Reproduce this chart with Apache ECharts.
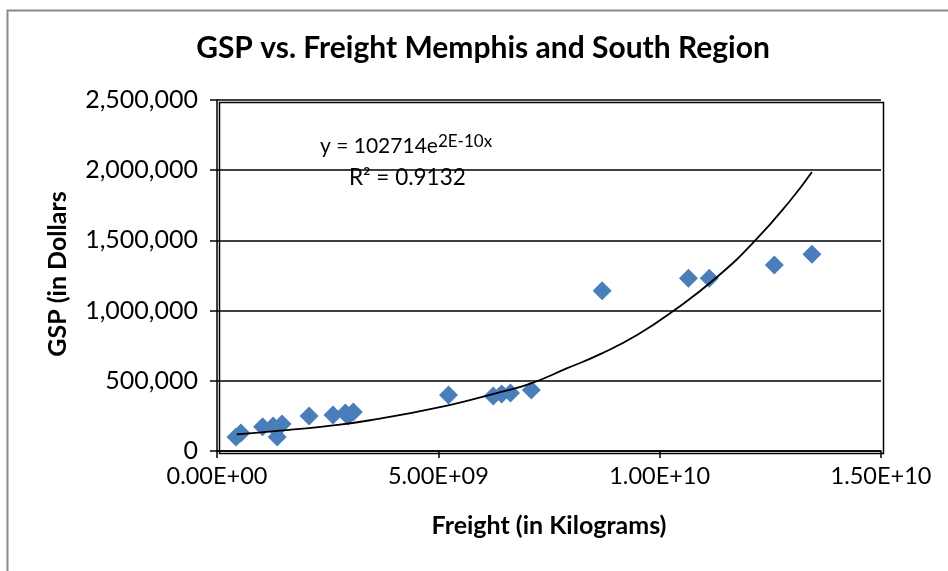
<!DOCTYPE html>
<html>
<head>
<meta charset="utf-8">
<script src="https://cdn.jsdelivr.net/npm/echarts@6/dist/echarts.min.js"></script>
<style>html,body{margin:0;padding:0;background:#fff;}#c{width:948px;height:571px;}</style>
</head>
<body>
<div id="c"></div>
<script>
// Freight (kg) vs GSP (dollars)
var freight = [0.43e9, 0.54e9, 1.03e9, 1.27e9, 1.47e9, 1.36e9, 2.08e9, 2.62e9, 2.90e9, 3.08e9, 2.96e9, 5.23e9, 6.24e9, 6.43e9, 6.63e9, 7.10e9, 8.70e9, 10.65e9, 11.12e9, 12.59e9, 13.44e9];
var gsp = [99700, 128000, 173000, 178000, 192000, 99700, 249000, 256000, 270000, 278000, 250000, 399000, 392000, 406000, 413000, 434000, 1142000, 1230000, 1230000, 1325000, 1401000];
// exponential trendline
var trendX = [0.446e9, 1.425e9, 2.44e9, 3.46e9, 5.20e9, 6.40e9, 7.08e9, 7.90e9, 8.67e9, 9.50e9, 10.32e9, 11.31e9, 12.17e9, 12.96e9, 13.44e9];
var trendY = [119000, 144600, 176000, 219000, 324000, 420000, 480000, 588000, 692000, 828000, 1000000, 1243000, 1503000, 1788000, 1987000];
var xTicks = ['0.00E+00', '5.00E+09', '1.00E+10', '1.50E+10'];
var yTicks = ['0', '500,000', '1,000,000', '1,500,000', '2,000,000', '2,500,000'];

var pts = freight.map(function (v, i) { return [v, gsp[i]]; });
var trend = trendX.map(function (v, i) { return [v, trendY[i]]; });
var FONT = 'Lato';
var chart = echarts.init(document.getElementById('c'));
chart.setOption({
  animation: false,
  backgroundColor: '#fff',
  title: {
    text: 'GSP vs. Freight Memphis and South Region',
    left: 478, top: 28, textAlign: 'center',
    textStyle: { fontFamily: FONT, fontWeight: 'bold', fontSize: 30, color: '#000' }
  },
  grid: { left: 217, right: 67, top: 100, bottom: 120 },
  xAxis: {
    type: 'value', min: 0, max: 1.5e10, interval: 5e9,
    axisLine: { show: true, lineStyle: { color: '#000', width: 1.5 } },
    axisTick: { show: true, length: 7, lineStyle: { color: '#000', width: 1.5 } },
    splitLine: { show: false },
    axisLabel: { fontFamily: FONT, fontSize: 23.5, color: '#000', margin: 13,
      formatter: function (v) { return xTicks[Math.round(v / 5e9)]; } }
  },
  yAxis: {
    type: 'value', min: 0, max: 2500000, interval: 500000,
    axisLine: { show: true, lineStyle: { color: '#000', width: 1.5 } },
    axisTick: { show: true, length: 7, lineStyle: { color: '#000', width: 1.5 } },
    splitLine: { show: true, lineStyle: { color: '#000', width: 1.5 } },
    axisLabel: { fontFamily: FONT, fontSize: 25, color: '#000', margin: 19,
      formatter: function (v) { return yTicks[Math.round(v / 500000)]; } }
  },
  graphic: [
    { type: 'rect', left: 5, top: 8, shape: { width: 980, height: 620 }, style: { fill: 'none', stroke: '#8a8a8a', lineWidth: 2 }, silent: true, z: -1 },
    { type: 'rect', left: 217, top: 100, shape: { width: 664, height: 351 }, style: { fill: 'none', stroke: '#000', lineWidth: 1.5 }, silent: true, z: 10 },
    { type: 'text', x: 549, y: 526, style: { text: 'Freight (in Kilograms)', fontFamily: FONT, fontWeight: 'bold', fontSize: 25, fill: '#000', align: 'center', verticalAlign: 'middle' } },
    { type: 'text', x: 58, y: 274, rotation: Math.PI / 2, style: { text: 'GSP (in Dollars', fontFamily: FONT, fontWeight: 'bold', fontSize: 25, fill: '#000', align: 'center', verticalAlign: 'middle' } },
    { type: 'text', left: 320, top: 133, style: { rich: { a: { fontFamily: FONT, fontSize: 21, fill: '#000' }, s: { fontFamily: FONT, fontSize: 17, fill: '#000', verticalAlign: 'top', padding: [0, 0, 10, 0] } }, text: '{a|y = 102714e}{s|2E-10x}' } },
    { type: 'text', left: 349, top: 166, style: { text: 'R² = 0.9132', fontFamily: FONT, fontSize: 22.5, fill: '#000' } }
  ],
  series: [
    { type: 'scatter', data: pts, symbol: 'diamond', symbolSize: 19, itemStyle: { color: '#4a7ebb', opacity: 1 }, z: 3 },
    { type: 'line', data: trend, smooth: true, showSymbol: false, lineStyle: { color: '#000', width: 1.8 }, z: 4 }
  ]
});
</script>
</body>
</html>
